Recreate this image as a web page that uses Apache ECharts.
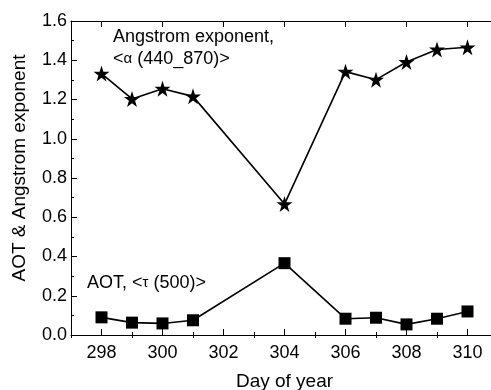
<!DOCTYPE html>
<html>
<head>
<meta charset="utf-8">
<script src="https://cdn.jsdelivr.net/npm/echarts@6/dist/echarts.min.js"></script>
<style>html,body{margin:0;padding:0;background:#fff}#c{width:491px;height:390px}</style>
</head>
<body>
<div id="c"></div>
<script>
const days = [298, 299, 300, 301, 304, 306, 307, 308, 309, 310];
const angstrom = [1.332, 1.203, 1.255, 1.216, 0.667, 1.342, 1.301, 1.391, 1.455, 1.466];
const aot = [0.090, 0.063, 0.059, 0.075, 0.366, 0.083, 0.088, 0.054, 0.083, 0.120];
const xMajor = [298, 300, 302, 304, 306, 308, 310];
const xMinor = [297, 299, 301, 303, 305, 307, 309, 311];
const xTitle = 'Day of year';
const yTitle = 'AOT & Angstrom exponent';
const angLabel1 = 'Angstrom exponent,';
const angLabel2 = '<{g|α} (440_870)>';
const aotLabel = 'AOT, <{g|τ} (500)>';

const FONT = 'Liberation Sans, Arial, sans-serif';
const STAR = 'path://M50,0 L61.2,34.5 L97.6,34.5 L68.2,55.9 L79.4,90.5 L50,69.1 L20.6,90.5 L31.8,55.9 L2.4,34.5 L38.8,34.5 Z';
const lineC = '#000';
const pair = (xs, ys) => xs.map((x, i) => [x, ys[i]]);

const baseX = {
  type: 'value', min: 297, max: 311, interval: 1,
  splitLine: { show: false },
  axisLine: { show: false }
};
const richG = { g: { fontSize: 15, fontFamily: FONT, fill: '#000' } };

const chart = echarts.init(document.getElementById('c'));
chart.setOption({
  animation: false,
  grid: { left: 71, top: 21, right: -7, bottom: 55, containLabel: false, outerBoundsMode: 'none' },
  xAxis: [
    Object.assign({}, baseX, {
      position: 'bottom',
      axisLine: { show: true, onZero: false, lineStyle: { color: lineC, width: 1 } },
      axisTick: { show: true, inside: true, length: 6, customValues: xMajor, lineStyle: { color: lineC } },
      axisLabel: { show: true, customValues: xMajor, margin: 9, color: '#000', fontSize: 18, fontFamily: FONT },
      name: xTitle, nameLocation: 'middle', nameGap: 37,
      nameTextStyle: { color: '#000', fontSize: 19, fontFamily: FONT }
    }),
    Object.assign({}, baseX, {
      position: 'bottom',
      axisTick: { show: true, inside: true, length: 3, customValues: xMinor, lineStyle: { color: lineC } },
      axisLabel: { show: false }
    }),
    Object.assign({}, baseX, {
      position: 'top',
      axisLine: { show: true, onZero: false, lineStyle: { color: lineC, width: 1 } },
      axisTick: { show: true, inside: true, length: 6, customValues: xMajor, lineStyle: { color: lineC } },
      axisLabel: { show: false }
    }),
    Object.assign({}, baseX, {
      position: 'top',
      axisTick: { show: true, inside: true, length: 3, customValues: xMinor, lineStyle: { color: lineC } },
      axisLabel: { show: false }
    })
  ],
  yAxis: [
    {
      type: 'value', min: 0, max: 1.6, interval: 0.2, position: 'left',
      splitLine: { show: false },
      axisLine: { show: true, onZero: false, lineStyle: { color: lineC, width: 1 } },
      axisTick: { show: true, inside: true, length: 6, lineStyle: { color: lineC } },
      minorTick: { show: true, splitNumber: 2, length: 3, lineStyle: { color: lineC } },
      axisLabel: { margin: 4, color: '#000', fontSize: 18, fontFamily: FONT, formatter: v => v.toFixed(1) }
    },
    {
      type: 'value', min: 0, max: 1.6, interval: 0.2, position: 'right',
      splitLine: { show: false },
      axisLine: { show: true, onZero: false, lineStyle: { color: lineC, width: 1 } },
      axisTick: { show: true, inside: true, length: 6, lineStyle: { color: lineC } },
      minorTick: { show: true, splitNumber: 2, length: 3, lineStyle: { color: lineC } },
      axisLabel: { show: false }
    }
  ],
  series: [
    {
      type: 'line', xAxisIndex: 0, yAxisIndex: 0,
      data: pair(days, angstrom),
      symbol: STAR, symbolSize: 16,
      itemStyle: { color: '#000' },
      lineStyle: { color: '#000', width: 1.6 }
    },
    {
      type: 'line', xAxisIndex: 0, yAxisIndex: 0,
      data: pair(days, aot),
      symbol: 'rect', symbolSize: 12,
      itemStyle: { color: '#000' },
      lineStyle: { color: '#000', width: 1.6 }
    }
  ],
  graphic: [
    { type: 'text', x: 20, y: 168, rotation: Math.PI / 2,
      style: { text: yTitle, fill: '#000', font: '19px ' + FONT, align: 'center', verticalAlign: 'middle' } },
    { type: 'text', x: 113, y: 37,
      style: { text: angLabel1, fill: '#000', font: '18px ' + FONT, verticalAlign: 'middle' } },
    { type: 'text', x: 113, y: 59,
      style: { text: angLabel2, fill: '#000', font: '18px ' + FONT, verticalAlign: 'middle', rich: richG } },
    { type: 'text', x: 87, y: 283,
      style: { text: aotLabel, fill: '#000', font: '18px ' + FONT, verticalAlign: 'middle', rich: richG } }
  ]
});
</script>
</body>
</html>
